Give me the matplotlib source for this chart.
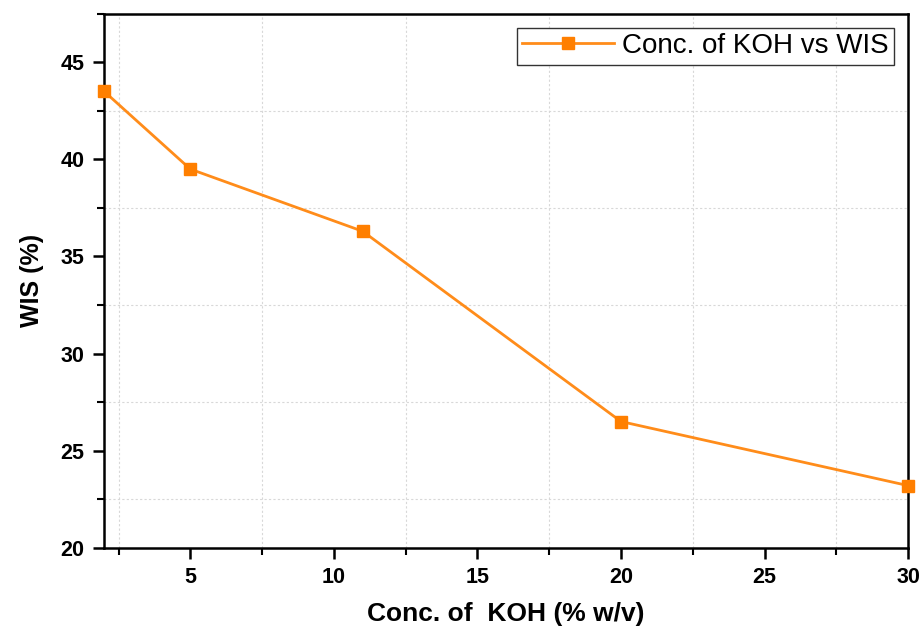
import numpy as np
import matplotlib
matplotlib.use('Agg')
import matplotlib.pyplot as plt
from matplotlib.ticker import MultipleLocator

plt.rcParams['font.family'] = ['Liberation Sans', 'DejaVu Sans']

# data
koh_conc = [2, 5, 11, 20, 30]
wis = [43.5, 39.5, 36.3, 26.5, 23.2]

fig = plt.figure(figsize=(9.22, 6.26), dpi=100)
ax = fig.add_axes([0.113, 0.125, 0.872, 0.853])

ax.plot(koh_conc, wis, color='#FF8C1A', lw=2, marker='s', ms=9,
        mfc='#FF7F00', mec='#FF7F00', label='Conc. of KOH vs WIS', clip_on=False, zorder=3)

ax.set_xlim(2, 30)
ax.set_ylim(20, 47.5)
ax.xaxis.set_major_locator(MultipleLocator(5))
ax.xaxis.set_minor_locator(MultipleLocator(2.5))
ax.yaxis.set_major_locator(MultipleLocator(5))
ax.yaxis.set_minor_locator(MultipleLocator(2.5))

ax.grid(True, which='minor', color='#d8d8d8', ls=(0, (2, 2)), lw=0.8)
ax.set_axisbelow(True)

for s in ax.spines.values():
    s.set_linewidth(1.8)
ax.tick_params(which='major', direction='out', length=8, width=1.8, labelsize=15.5, pad=6)
ax.tick_params(which='minor', direction='out', length=5, width=1.5)
for lab in ax.get_xticklabels() + ax.get_yticklabels():
    lab.set_fontweight('bold')

ax.set_xlabel('Conc. of  KOH (% w/v)', fontsize=19, fontweight='bold', labelpad=10)
ax.set_ylabel('WIS (%)', fontsize=18, fontweight='bold', labelpad=12)

leg = ax.legend(loc='upper right', fontsize=20, fancybox=False, edgecolor='#333333',
                framealpha=1, borderaxespad=0.5, handlelength=3.3, handletextpad=0.3,
                borderpad=0.2)
leg.get_frame().set_linewidth(1.0)

fig.savefig('out.png', dpi=100)
